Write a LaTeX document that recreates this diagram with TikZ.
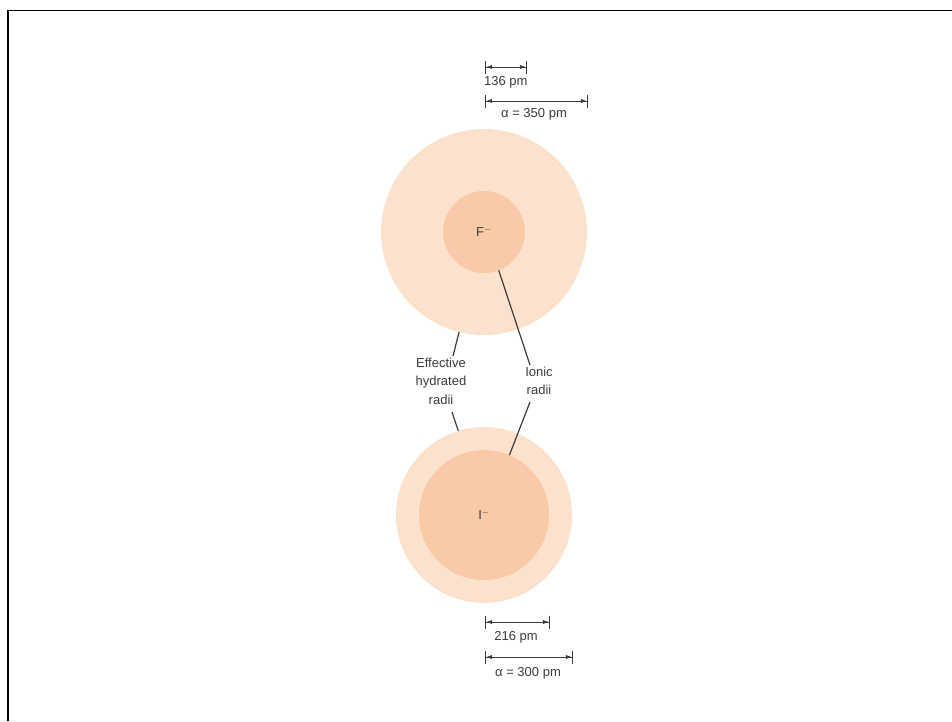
\documentclass[tikz,border=0pt]{standalone}
\usepackage{fontspec}
\setmainfont{Liberation Sans}
\usetikzlibrary{arrows.meta}
\definecolor{outerc}{RGB}{252,226,204}
\definecolor{innerc}{RGB}{248,202,168}
\definecolor{inkc}{RGB}{60,60,60}
\begin{document}
\begin{tikzpicture}[x=1pt,y=-1pt,
  outercirc/.style={circle,fill=outerc,draw=none,inner sep=0pt,outer sep=0pt},
  innercirc/.style={circle,fill=innerc,draw=none,inner sep=0pt,outer sep=0pt,text=inkc,font=\fontsize{13}{16}\selectfont},
  lbl/.style={text=inkc,font=\fontsize{13}{18.5}\selectfont,inner sep=0pt,align=center},
  dimline/.style={draw=inkc,line width=1pt,
    arrows={Bar[width=13pt,line width=1.2pt]Latex[length=6pt,width=4.5pt]-Latex[length=6pt,width=4.5pt]Bar[width=13pt,line width=1.2pt]}},
  leader/.style={draw=inkc,line width=1.2pt}]
\useasboundingbox (0,0) rectangle (952,721);
% frame
\draw[line width=1.5pt] (8,721) -- (8,10.5) -- (952,10.5);
% circles
\node[outercirc,minimum size=206pt] (fo) at (484,232) {};
\node[innercirc,minimum size=82pt] (fi) at (484,232) {F$^{-}$};
\node[outercirc,minimum size=176pt] (io) at (484,515) {};
\node[innercirc,minimum size=130pt] (ii) at (484,515) {I$^{-}$};
% top dimensions
\coordinate (a1) at (485,67); \coordinate (b1) at (527,67);
\draw[dimline] (a1) -- (b1);
\node[lbl,anchor=west] (t136) at (484,82) {136 pm};
\coordinate (a2) at (485,101); \coordinate (b2) at (588,101);
\draw[dimline] (a2) -- (b2);
\node[lbl] (t350) at (534,114) {α = 350 pm};
% bottom dimensions
\coordinate (a3) at (485,622); \coordinate (b3) at (550,622);
\draw[dimline] (a3) -- (b3);
\node[lbl] (t216) at (516,637) {216 pm};
\coordinate (a4) at (485,657); \coordinate (b4) at (573,657);
\draw[dimline] (a4) -- (b4);
\node[lbl] (t300) at (528,673) {α = 300 pm};
% labels
\node[lbl] (eff) at (441,381) {Effective\\hydrated\\radii};
\node[lbl] (ion) at (539,381) {Ionic\\radii};
\coordinate (e1) at (453,356); \coordinate (e2) at (452,412);
\coordinate (i1) at (530,365); \coordinate (i2) at (530,402);
\draw[leader] (fo.-104.6) -- (e1);
\draw[leader] (e2) -- (io.107);
\draw[leader] (fi.-69.8) -- (i1);
\draw[leader] (i2) -- (ii.67.4);
\end{tikzpicture}
\end{document}
